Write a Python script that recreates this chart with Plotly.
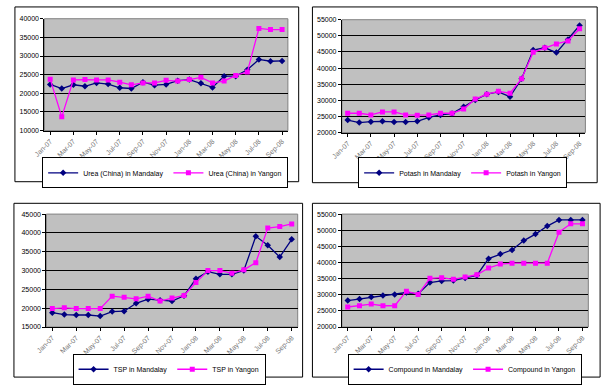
import plotly.graph_objects as go

months = ["Jan-07","Feb-07","Mar-07","Apr-07","May-07","Jun-07","Jul-07","Aug-07","Sep-07",
          "Oct-07","Nov-07","Dec-07","Jan-08","Feb-08","Mar-08","Apr-08","May-08","Jun-08",
          "Jul-08","Aug-08","Sep-08"]
tick_months = months[::2]

urea_mandalay = [22400,21300,22300,21900,22800,22500,21500,21300,23000,22200,22400,23400,
                 23700,22700,21600,24600,24600,26300,29100,28600,28700]
urea_yangon = [23800,13700,23600,23700,23600,23600,23000,22300,22800,22800,23500,23300,
               23700,24300,22800,23300,24800,25700,37400,37100,37100]

potash_mandalay = [23900,23100,23400,23500,23300,23300,23500,24700,25500,25900,28000,30100,
                   31900,32600,31100,36700,45600,46300,44800,48900,53200]
potash_yangon = [26000,26000,25500,26400,26400,25500,25400,25500,26000,26000,27300,30400,
                 31900,32800,32200,36700,44900,46300,47500,48400,52200]

tsp_mandalay = [18800,18300,18200,18200,17900,19100,19200,21300,22400,22100,21900,23300,
                27800,29700,29000,29000,30000,39100,36700,33600,38300]
tsp_yangon = [19900,20100,19900,19900,19900,23200,22900,22500,23200,21900,22700,23400,
              26800,30000,30000,29300,30200,32100,41300,41700,42400]

comp_mandalay = [28200,28700,29300,29800,30100,30700,30300,33800,34300,34400,35200,36000,
                 41200,42600,43900,46800,48800,51300,53200,53200,53200]
comp_yangon = [26200,26600,27100,26600,26600,31100,30100,35100,35300,34800,35500,36200,
               38300,39500,39800,39800,39800,39800,49400,52000,52000]

W, H = 606, 385
def px(x): return x / W
def py(y): return 1 - y / H

panels = [
    dict(m=urea_mandalay, y=urea_yangon, nm="Urea (China) in Mandalay", ny="Urea (China) in Yangon",
         rng=[10000, 40000], plot=(34, 15, 282, 129), box=(4, 3, 293, 181), leg=(157, 172)),
    dict(m=potash_mandalay, y=potash_yangon, nm="Potash in Mandalay", ny="Potash in Yangon",
         rng=[20000, 55000], plot=(337, 16, 585, 131), box=(307, 3, 597, 182), leg=(460, 172)),
    dict(m=tsp_mandalay, y=tsp_yangon, nm="TSP in Mandalay", ny="TSP in Yangon",
         rng=[15000, 45000], plot=(36, 214, 292, 329), box=(3, 203, 297, 380), leg=(161, 372)),
    dict(m=comp_mandalay, y=comp_yangon, nm="Compound in Mandalay", ny="Compound in Yangon",
         rng=[20000, 55000], plot=(337, 214, 588, 329), box=(307, 203, 600, 380), leg=(462, 372)),
]

fig = go.Figure()
shapes = []
font = "Liberation Sans, Arial, sans-serif"
layout = dict(width=W, height=H, margin=dict(l=0, r=0, t=0, b=0),
              paper_bgcolor="white", plot_bgcolor="#C0C0C0",
              font=dict(family=font, size=7, color="black"))

for i, p in enumerate(panels):
    k = "" if i == 0 else str(i + 1)
    legname = "legend" if i == 0 else f"legend{i+1}"
    xa, ya = "x" + k, "y" + k
    fig.add_trace(go.Scatter(x=months, y=p["m"], name=p["nm"], mode="lines+markers",
                             line=dict(color="#000080", width=1.3),
                             marker=dict(symbol="diamond", size=5, color="#000080"),
                             xaxis=xa, yaxis=ya, legend=legname))
    fig.add_trace(go.Scatter(x=months, y=p["y"], name=p["ny"], mode="lines+markers",
                             line=dict(color="#FF00FF", width=1.3),
                             marker=dict(symbol="square", size=5, color="#FF00FF"),
                             xaxis=xa, yaxis=ya, legend=legname))
    x0, y0, x1, y1 = p["plot"]
    layout["xaxis" + k] = dict(domain=[px(x0), px(x1)], anchor=ya, type="category",
                               categoryorder="array", categoryarray=months,
                               range=[-0.5, len(months) - 0.5],
                               tickmode="array", tickvals=tick_months, ticktext=tick_months,
                               tickangle=-45, tickfont=dict(size=7, color="#777777"),
                               showgrid=False, showline=True, linecolor="black", linewidth=1,
                               ticks="outside", ticklen=3, tickcolor="black", zeroline=False)
    layout["yaxis" + k] = dict(domain=[py(y1), py(y0)], anchor=xa, range=p["rng"],
                               dtick=5000, tickformat="d", showgrid=True, gridcolor="black",
                               gridwidth=1, showline=True, linecolor="black", linewidth=1,
                               ticks="outside", ticklen=3, tickcolor="black", zeroline=False,
                               tickfont=dict(size=7, color="black"))
    shapes.append(dict(type="rect", xref="paper", yref="paper", x0=px(x0), x1=px(x1),
                       y0=py(y1), y1=py(y0), line=dict(color="#808080", width=1), layer="below"))
    bx0, by0, bx1, by1 = p["box"]
    shapes.append(dict(type="rect", xref="paper", yref="paper", x0=px(bx0), x1=px(bx1),
                       y0=py(by1), y1=py(by0), line=dict(color="black", width=1)))
    lx, ly = p["leg"]
    layout[legname] = dict(x=px(lx), y=py(ly), xanchor="center", yanchor="middle",
                           orientation="h", bgcolor="white", bordercolor="black", borderwidth=1,
                           font=dict(size=7, family=font, color="black"),
                           itemwidth=30, tracegroupgap=0, itemclick=False)

layout["shapes"] = shapes
fig.update_layout(**layout)
fig.write_html("out.html", config={"displayModeBar": False, "staticPlot": True},
               post_script="document.body.style.margin='0';document.body.style.overflow='hidden';")
